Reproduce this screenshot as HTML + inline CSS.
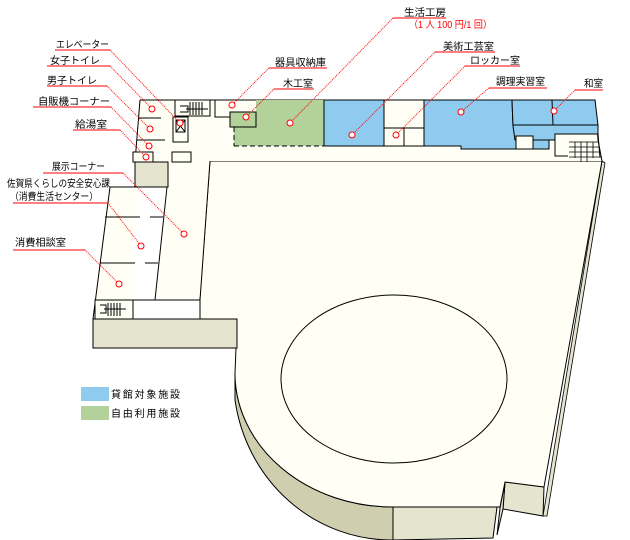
<!DOCTYPE html>
<html><head><meta charset="utf-8"><style>
body{margin:0;background:#fff;}
svg{display:block;font-family:"Liberation Sans","Noto Sans CJK JP",sans-serif;}
text{font-size:10px;fill:#000;}
</style></head><body>
<svg width="630" height="540" viewBox="0 0 630 540" xmlns="http://www.w3.org/2000/svg">
<!-- hall side faces -->
<path d="M235,373 A158,134 0 0 0 393,507 L393,540 A158,164 0 0 1 235,400 Z" fill="#cfcfb0" stroke="#000" stroke-width="1"/>
<path d="M393,507 L497,507 L493,538 L393,540 Z" fill="#e5e5cf" stroke="#000"/>
<path d="M505,482 L544,487 L543,516 L503,509 Z" fill="#e5e5cf" stroke="#000"/>
<path d="M500,508 L505,482 L503,509 L497,535 Z" fill="#e5e5cf" stroke="#000"/>
<path d="M602,161 L605,163 L547,516 L543,516 Z" fill="#e5e5cf" stroke="#000" stroke-width="0.8"/>
<!-- hall top -->
<path d="M210,161 L602,161 L544,487 L505,482 L500,507 L393,507 A158,134 0 0 1 235,373 L236,348 L200,348 L200,297 Z" fill="#fffff5" stroke="#000"/>
<ellipse cx="394" cy="379" rx="113" ry="84" fill="none" stroke="#000"/>
<!-- top wing -->
<path d="M140,100 L595,100 L598,140 L602,161 L210,161 L200,297 L155,300 L167,187 L110,187 L93,319 L133,319 L133,300 Z" fill="#fffff5" stroke="none"/>
<path d="M135,162 L137,187 L110,187 L93,319 L133,319" fill="#fffff5" stroke="none"/>
<path d="M140,100 L595,100 L598,140 L602,161" fill="none" stroke="#000"/>
<path d="M140,100 L135,162 M137,187 L110,187 L93,319" fill="none" stroke="#000"/>
<path d="M210,161 L200,300 L133,300 L133,319" fill="none" stroke="#000"/>
<path d="M167,187 L155,300" fill="none" stroke="#000"/>
<path d="M110,187 L167,187" fill="none" stroke="#000"/>
<!-- beige boxes left -->
<rect x="135" y="162" width="33" height="25" fill="#e5e5cf" stroke="#000"/>
<rect x="93" y="319" width="144" height="29" fill="#e5e5cf" stroke="#000"/>
<rect x="95" y="300" width="38" height="19" fill="#fffff5" stroke="#000"/>
<path d="M100,305 h6 v8 h-6 M108,303 v13 M111,303 v13 M114,303 v13 M117,303 v13 M120,303 v13 M104,309 h22" stroke="#000" fill="none"/>
<!-- wing rooms -->
<path d="M138,118 L161,118 M137,140 L165,140 M105,217 L140,217 M150,217 L163,217 M100,263 L135,263 M145,263 L158,263" stroke="#000"/>
<rect x="133" y="152" width="20" height="10" fill="#fffff5" stroke="#000"/>
<rect x="172" y="152" width="19" height="10" fill="#fffff5" stroke="#000"/>
<rect x="173" y="117" width="15" height="25" fill="#fffff5" stroke="#000"/>
<rect x="176" y="120" width="9" height="12" fill="none" stroke="#000"/>
<path d="M176,120 L185,132 M185,120 L176,132" stroke="#000"/>
<rect x="175" y="100" width="35" height="16" fill="#fffff5" stroke="#000"/>
<path d="M180,106 h8 v6 h-8 M190,102 v13 M193,102 v13 M196,102 v13 M199,102 v13 M202,102 v13 M186,109 h22" stroke="#000" fill="none"/>
<!-- top rooms -->
<rect x="215" y="100" width="43" height="17" fill="#fffff5" stroke="#000"/>
<path d="M256,100 L324,100 L324,146 L234,146 L234,127 L256,127 Z" fill="#b3d19b"/>
<path d="M234,146 L324,146 M234,127 L234,146" stroke="#000" stroke-dasharray="5,3"/>
<path d="M324,100 L324,146" stroke="#000"/>
<rect x="230" y="112" width="26" height="15" fill="#b3d19b" stroke="#000"/>
<rect x="324" y="100" width="60" height="46" fill="#8ecbef" stroke="#000"/>
<rect x="384" y="128" width="40" height="18" fill="#fffff5" stroke="#000"/>
<path d="M404,128 V146" stroke="#000"/>
<path d="M424,100 L512,100 L513,126 L549,126 L549,149 L461,149 L461,146 L424,146 Z" fill="#8ecbef" stroke="#000"/>
<path d="M512,100 L595,100 L598,125 L598,134 L555,134 L555,140 L515,140 L513,126 Z" fill="#8ecbef" stroke="#000"/>
<path d="M552,100 L553,125 M513,125 L598,125" stroke="#000"/>
<rect x="516" y="136" width="17" height="13" fill="#fffff5" stroke="#000"/>
<path d="M555,134 V156 L568,156 M598,134 L600,158" stroke="#000" fill="none"/>
<path d="M569,142 h30 M569,147 h30 M569,152 h30 M569,157 h30 M575,142 v16 M581,142 v20 M587,142 v20 M593,142 v16" stroke="#000" stroke-width="0.8"/>
<!-- legend -->
<rect x="81" y="387" width="28" height="14" fill="#8ecbef"/>
<rect x="81" y="406" width="28" height="14" fill="#b3d19b"/>
<text x="111" y="398" textLength="69" lengthAdjust="spacing">貸館対象施設</text>
<text x="111" y="417" textLength="69" lengthAdjust="spacing">自由利用施設</text>
<!-- labels -->
<g fill="none" stroke="#f00">
<path d="M55,50 H110"/><path d="M47,66 H110"/><path d="M47,86 H107"/><path d="M33,107 H111"/><path d="M73,130 H120"/>
<path d="M43,173 H123"/><path d="M13,203 H108"/><path d="M13,250 H85"/>
<path d="M269,68 H327"/><path d="M274,89 H314"/><path d="M393,18 H446"/>
<path d="M435,52 H495"/><path d="M465,66 H520"/><path d="M489,88 H547"/><path d="M575,90 H603"/>
<g stroke-dasharray="1,1">
<path d="M110,50 L180,123"/><path d="M110,66 L152,109"/><path d="M107,86 L150,129"/><path d="M111,107 L149,146"/><path d="M120,130 L146,157"/>
<path d="M123,173 L184,234"/><path d="M108,203 L141,246"/><path d="M85,250 L119,284"/>
<path d="M269,68 L232,105"/><path d="M274,89 L246,117"/><path d="M393,18 L290,123"/>
<path d="M435,52 L352,135"/><path d="M465,66 L396,135"/><path d="M489,88 L461,112"/><path d="M575,90 L554,111"/>
</g>
<g fill="#fff">
<circle cx="180" cy="123" r="3"/><circle cx="152" cy="109" r="3"/><circle cx="150" cy="129" r="3"/><circle cx="149" cy="146" r="3"/><circle cx="146" cy="157" r="3"/>
<circle cx="184" cy="234" r="3"/><circle cx="141" cy="246" r="3"/><circle cx="119" cy="284" r="3"/>
<circle cx="232" cy="105" r="3"/><circle cx="246" cy="117" r="3"/><circle cx="290" cy="123" r="3"/>
<circle cx="352" cy="135" r="3"/><circle cx="396" cy="135" r="3"/><circle cx="461" cy="112" r="3"/><circle cx="554" cy="111" r="3"/>
</g>
</g>
<text x="56" y="48" textLength="53" lengthAdjust="spacingAndGlyphs">エレベーター</text>
<text x="50" y="64" textLength="50" lengthAdjust="spacingAndGlyphs">女子トイレ</text>
<text x="47" y="84" textLength="50" lengthAdjust="spacingAndGlyphs">男子トイレ</text>
<text x="38" y="105" textLength="72" lengthAdjust="spacingAndGlyphs">自販機コーナー</text>
<text x="75" y="128" textLength="32" lengthAdjust="spacingAndGlyphs">給湯室</text>
<text x="52" y="170" textLength="53" lengthAdjust="spacingAndGlyphs">展示コーナー</text>
<text x="7" y="187" textLength="103" lengthAdjust="spacingAndGlyphs">佐賀県くらしの安全安心課</text>
<text x="10" y="200" textLength="88" lengthAdjust="spacingAndGlyphs">（消費生活センター）</text>
<text x="15" y="246" textLength="51" lengthAdjust="spacingAndGlyphs">消費相談室</text>
<text x="275" y="66" textLength="51" lengthAdjust="spacingAndGlyphs">器具収納庫</text>
<text x="283" y="87" textLength="30" lengthAdjust="spacingAndGlyphs">木工室</text>
<text x="404" y="16" textLength="42" lengthAdjust="spacingAndGlyphs">生活工房</text>
<text x="409" y="28" style="fill:#f00" textLength="83" lengthAdjust="spacingAndGlyphs">（1 人 100 円/1 回）</text>
<text x="443" y="50" textLength="51" lengthAdjust="spacingAndGlyphs">美術工芸室</text>
<text x="470" y="64" textLength="50" lengthAdjust="spacingAndGlyphs">ロッカー室</text>
<text x="496" y="85" textLength="49" lengthAdjust="spacingAndGlyphs">調理実習室</text>
<text x="584" y="87" textLength="19" lengthAdjust="spacingAndGlyphs">和室</text>
</svg>
</body></html>
